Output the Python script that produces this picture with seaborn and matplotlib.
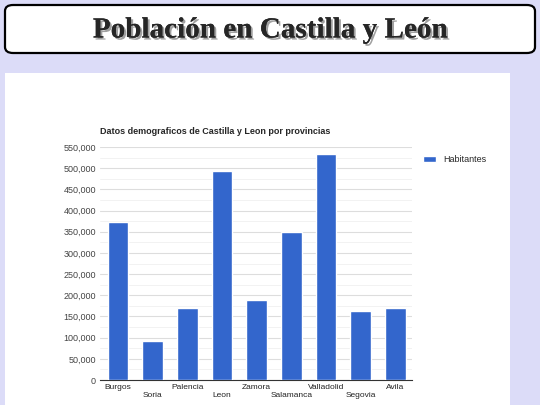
import matplotlib
matplotlib.use("Agg")
import matplotlib.pyplot as plt
import seaborn as sns
import pandas as pd
from matplotlib.patches import FancyBboxPatch, Rectangle
import matplotlib.patheffects as pe

provincias = ["Burgos", "Soria", "Palencia", "Leon", "Zamora", "Salamanca", "Valladolid", "Segovia", "Avila"]
habitantes = [374000, 93000, 170000, 494000, 190000, 350000, 533000, 163000, 171000]
yticks = list(range(0, 550001, 50000))

df = pd.DataFrame({"Provincia": provincias, "Habitantes": habitantes})

sns.set_style("white")
plt.rcParams['font.family'] = ['Liberation Sans', 'DejaVu Sans']

fig = plt.figure(figsize=(5.4, 4.05), dpi=100)
fig.patch.set_facecolor("#dcdcf8")

fig.patches.append(FancyBboxPatch((5/540, 1-53/405), 530/540, 48/405,
    boxstyle="round,pad=0,rounding_size=0.015", transform=fig.transFigure,
    facecolor="white", edgecolor="black", linewidth=1.6, zorder=-2))
fig.text(0.5, 1-30/405, "Población en Castilla y León", ha="center", va="center",
         family=["Liberation Serif"], fontweight="bold", fontsize=21,
         path_effects=[pe.withSimplePatchShadow(offset=(1.5, -1.5), shadow_rgbFace="#888888", alpha=0.8), pe.Normal()])
fig.patches.append(Rectangle((5/540, 0), 505/540, 1-73/405, transform=fig.transFigure,
                             facecolor="white", edgecolor="none", zorder=-2))

ax = fig.add_axes([100/540, 25/405, 312/540, 233/405])
ax.set_facecolor("none")
sns.barplot(data=df, x="Provincia", y="Habitantes", color="#3366cc", width=0.6,
            saturation=1, ax=ax, label="Habitantes", zorder=3)
ax.set_ylim(0, 550000)
ax.set_xlim(-0.52, 8.48)
ax.set_yticks(yticks)
ax.set_yticklabels([f"{v:,}" for v in yticks], fontsize=6.5, color="#444444")
ax.set_yticks([v + 25000 for v in yticks[:-1]], minor=True)
ax.grid(axis="y", which="major", color="#dddddd", linewidth=0.8, zorder=0)
ax.grid(axis="y", which="minor", color="#f0f0f0", linewidth=0.6, zorder=0)
ax.set_xticks(range(len(provincias)))
ax.set_xticklabels([("\n" if i % 2 else "") + p for i, p in enumerate(provincias)], fontsize=6, color="#222222")
ax.tick_params(axis="both", length=0, pad=3)
ax.set_xlabel("")
ax.set_ylabel("")
for s in ["top", "right", "left"]:
    ax.spines[s].set_visible(False)
ax.spines["bottom"].set_color("#333333")
ax.spines["bottom"].set_linewidth(0.8)
ax.set_title("Datos demograficos de Castilla y Leon por provincias", loc="left",
             fontsize=6.5, fontweight="bold", x=0, y=1.0, pad=9)
leg = ax.legend(loc="upper left", bbox_to_anchor=(1.01, 1.0), frameon=False, fontsize=6.5,
                handlelength=1.4, handleheight=0.8)
fig.savefig("out.png", dpi=100, facecolor=fig.get_facecolor())
